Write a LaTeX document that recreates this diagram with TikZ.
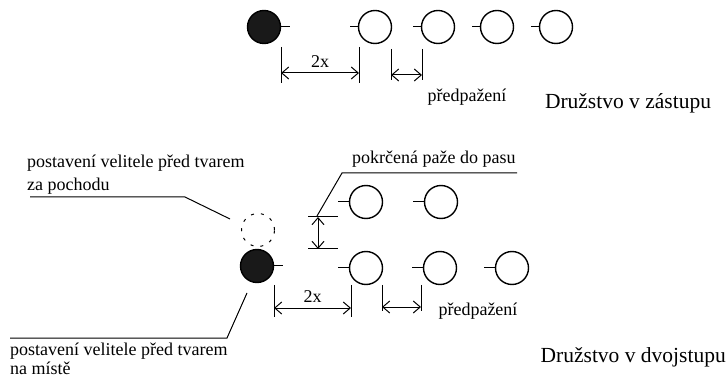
\documentclass[tikz,border=0pt]{standalone}
\usepackage{fontspec}
\setmainfont{Liberation Serif}
\usetikzlibrary{arrows.meta}
\tikzset{
  soldier/.style={circle, draw, line width=1.4pt, minimum size=33pt, inner sep=0pt},
  leader/.style={soldier, fill=black!90},
  ghost/.style={soldier, line width=1pt, dash pattern=on 3pt off 7pt},
  dimline/.style={line width=1pt, {Straight Barb[length=7pt,width=12pt]}-{Straight Barb[length=7pt,width=12pt]}},
  thin line/.style={line width=1pt},
  label/.style={inner sep=0pt, font=\fontsize{18}{22}\selectfont},
  title/.style={inner sep=0pt, font=\fontsize{21.5}{26}\selectfont},
}

\begin{document}
\begin{tikzpicture}[x=1pt, y=-1pt]
  \useasboundingbox (0,0) rectangle (728,379);

  % Druzstvo v zastupu
  \node[leader] (cmdA) at (264,27) {};
  \node[soldier] (s1) at (375,27) {};
  \node[soldier] (s2) at (438,27) {};
  \node[soldier] (s3) at (497,27) {};
  \node[soldier] (s4) at (556,27) {};

  \draw[thin line] (cmdA.east) -- ++(9,0);
  \foreach \n in {s1, s2, s3, s4}
    \draw[thin line] (\n.west) -- ++(-8,0);

  % dimensions
  \coordinate (a1) at (281,47);
  \coordinate (a2) at (281,83);
  \coordinate (a3) at (359,47);
  \coordinate (a4) at (359,83);
  \draw[thin line] (a1) -- (a2) (a3) -- (a4);
  \draw[dimline] (281,73) -- node[label, above=5pt] (twoxA) {2x} (359,73);

  \coordinate (b1) at (391,49);
  \coordinate (b2) at (391,80);
  \coordinate (b3) at (422,49);
  \coordinate (b4) at (422,80);
  \draw[thin line] (b1) -- (b2) (b3) -- (b4);
  \draw[dimline] (391,75) -- (422,75);

  \node[label] (armA) at (467,97) {předpažení};
  \node[title] (titleA) at (628,103) {Družstvo v zástupu};

  % Druzstvo v dvojstupu
  \node[ghost] (march) at (258,230) {};
  \node[leader] (cmdB) at (257,266) {};
  \draw[thin line] (cmdB.east) -- ++(9,0);

  \node[soldier] (t1) at (366,202) {};
  \node[soldier] (t2) at (441,202) {};
  \node[soldier] (r1) at (366,268) {};
  \node[soldier] (r2) at (440,268) {};
  \node[soldier] (r3) at (512,268) {};
  \foreach \n in {t1, t2, r1, r2, r3}
    \draw[thin line] (\n.west) -- ++(-11,0);

  % rank distance
  \coordinate (c1) at (308,217);
  \coordinate (c2) at (338,217);
  \coordinate (c3) at (308,249);
  \coordinate (c4) at (338,249);
  \draw[thin line] (c1) -- (c2) (c3) -- (c4);
  \draw[dimline] (318,217) -- (318,249);

  \node[label, anchor=base west] (bendText) at (352,164) {pokrčená paže do pasu};
  \coordinate (bendEnd) at (517,173);
  \draw[thin line] (317,216) -- (342,173) -- (bendEnd);

  % file distance
  \coordinate (d1) at (274,285);
  \coordinate (d2) at (274,317);
  \coordinate (d3) at (351,285);
  \coordinate (d4) at (351,317);
  \draw[thin line] (d1) -- (d2) (d3) -- (d4);
  \draw[dimline] (274,308) -- node[label, above=5pt] (twoxB) {2x} (351,308);

  \coordinate (e1) at (382,285);
  \coordinate (e2) at (382,311);
  \coordinate (e3) at (421,285);
  \coordinate (e4) at (421,311);
  \draw[thin line] (e1) -- (e2) (e3) -- (e4);
  \draw[dimline] (382,307) -- (421,307);

  \node[label] (armB) at (478,311) {předpažení};
  \node[title, anchor=east] (titleB) at (726,357) {Družstvo v dvojstupu};

  % commander callouts
  \node[label, anchor=base west] (marchText1) at (27,168) {postavení velitele před tvarem};
  \node[label, anchor=base west] (marchText2) at (27,191) {za pochodu};
  \coordinate (marchEnd) at (30,197);
  \draw[thin line] (marchEnd) -- (185,197) -- (230,219);

  \node[label, anchor=base west] (standText1) at (10,355) {postavení velitele před tvarem};
  \node[label, anchor=base west] (standText2) at (10,374) {na místě};
  \coordinate (standEnd) at (10,338);
  \draw[thin line] (standEnd) -- (227,338) -- (247,293);

\end{tikzpicture}
\end{document}
